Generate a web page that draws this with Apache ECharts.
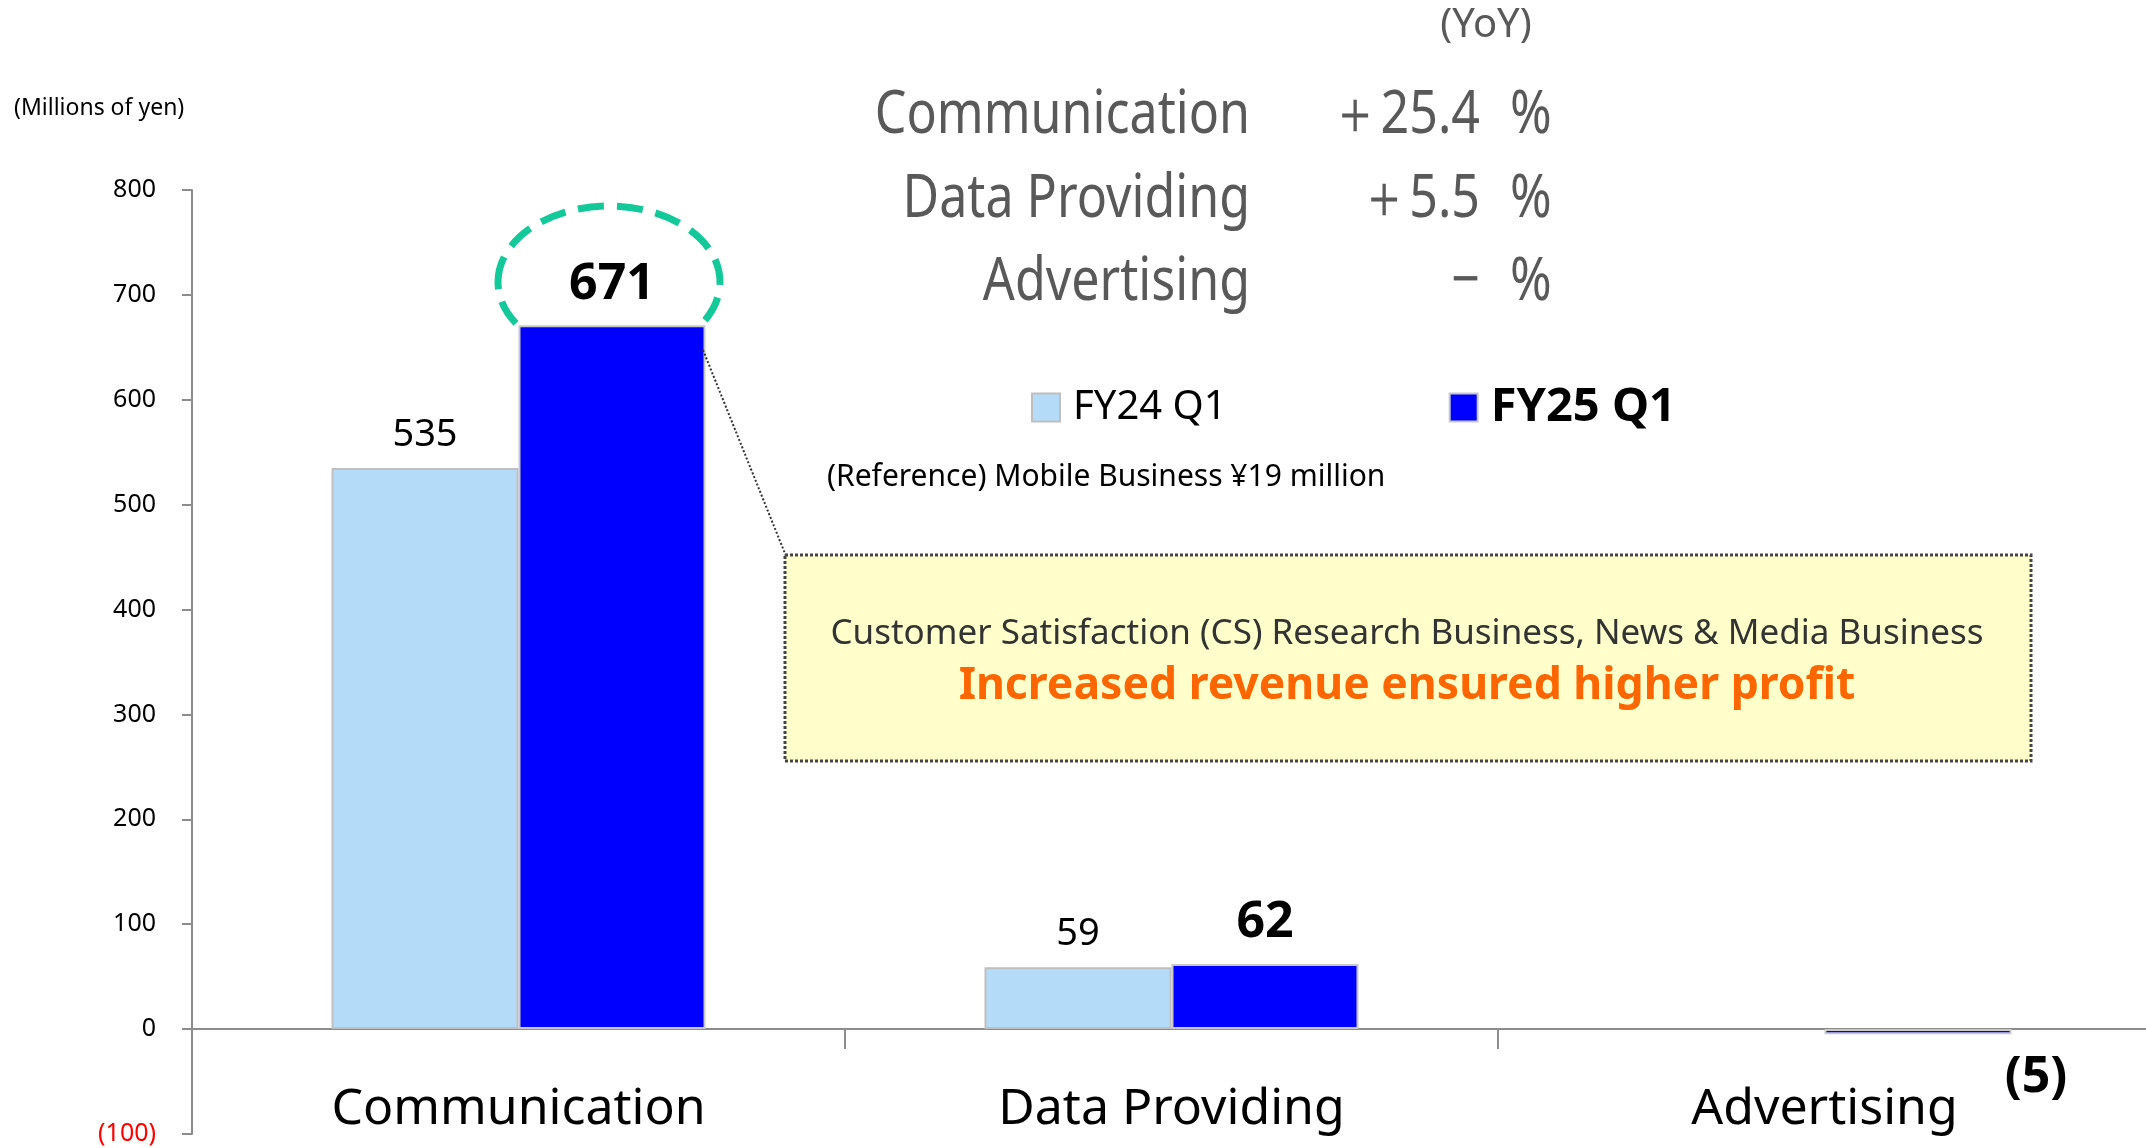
<!DOCTYPE html>
<html>
<head>
<meta charset="utf-8">
<script src="https://cdn.jsdelivr.net/npm/echarts@6/dist/echarts.min.js"></script>
<style>
html,body{margin:0;padding:0;background:#fff;}
#c{width:2146px;height:1148px;}
</style>
</head>
<body>
<div id="c"></div>
<script>
const categories = ['Communication', 'Data Providing', 'Advertising'];
const seriesNames = ['FY24 Q1', 'FY25 Q1'];
const fy24Values = [535, 59, null];
const fy25Values = [671, 62, -5];
const yMin = -100, yMax = 800, yInterval = 100;
const yoyNames = ['Communication', 'Data Providing', 'Advertising'];
const yoyValues = ['＋25.4', '＋5.5', '−'];
const unitText = '(Millions of yen)';
const referenceText = '(Reference) Mobile Business ¥19 million';
const calloutLine1 = 'Customer Satisfaction (CS) Research Business, News & Media Business';
const calloutLine2 = 'Increased revenue ensured higher profit';

const FONT = "'Noto Sans', 'Open Sans', sans-serif";
const GRAY = '#595959';
const SX = 0.822;

const chart = echarts.init(document.getElementById('c'), null, {renderer: 'canvas'});

function condensedText(text, x, y, align, size, color, weight) {
  return {
    type: 'text', z: 5, x: x, y: y, scaleX: SX, scaleY: 1,
    style: {text: text, x: 0, y: 0, align: align, verticalAlign: 'middle', font: `${weight || 'normal'} ${size}px ${FONT}`, fill: color}
  };
}

const yoyRowsY = [116, 200, 283];
const yoyGraphics = [];
yoyNames.forEach((n, i) => {
  yoyGraphics.push(condensedText(n, 1250, yoyRowsY[i], 'right', 61, GRAY));
  yoyGraphics.push(condensedText(yoyValues[i], 1480, yoyRowsY[i], 'right', 61, GRAY));
  yoyGraphics.push(condensedText('%', 1510, yoyRowsY[i], 'left', 61, GRAY));
});

const option = {
  animation: false,
  backgroundColor: '#ffffff',
  textStyle: {fontFamily: FONT},
  grid: {left: 192, top: 190, width: 1959, height: 944, containLabel: false, outerBoundsMode: 'none'},
  legend: {
    left: 1026, top: 379,
    icon: 'rect',
    itemWidth: 28, itemHeight: 28, itemGap: 222,
    data: [
      {name: seriesNames[0], textStyle: {fontSize: 40, fontWeight: 'normal', color: '#000', fontFamily: FONT, padding: [0, 0, 0, 8]}},
      {name: seriesNames[1], textStyle: {fontSize: 47, fontWeight: 'bold', color: '#000', fontFamily: FONT, padding: [0, 0, 0, 8]}}
    ]
  },
  xAxis: {
    type: 'category',
    data: categories,
    axisLine: {onZero: true, lineStyle: {color: '#8c8c8c', width: 2}},
    axisTick: {show: true, length: 20, lineStyle: {color: '#8c8c8c', width: 2}},
    axisLabel: {fontSize: 50, color: '#000', margin: -49, fontFamily: FONT}
  },
  yAxis: {
    type: 'value',
    min: yMin, max: yMax, interval: yInterval,
    axisLine: {show: true, lineStyle: {color: '#8c8c8c', width: 2}},
    axisTick: {show: true, length: 10, lineStyle: {color: '#8c8c8c', width: 2}},
    splitLine: {show: false},
    axisLabel: {
      fontSize: 25, color: '#000', margin: 36, fontFamily: FONT,
      formatter: v => v < 0 ? '{neg|(' + (-v) + ')}' : String(v),
      rich: {neg: {color: '#ff0000', fontSize: 25, fontFamily: FONT}}
    }
  },
  series: [
    {
      name: seriesNames[0], type: 'bar', data: fy24Values,
      barWidth: 187, barGap: '0%',
      itemStyle: {color: '#b4dcf8', borderColor: '#bfbfbf', borderWidth: 2},
      label: {show: true, position: 'top', distance: 14, fontSize: 38, color: '#000', fontFamily: FONT}
    },
    {
      name: seriesNames[1], type: 'bar', data: fy25Values.map(v => v < 0 ? {value: v, label: {position: 'outside', offset: [118, 2], formatter: '(' + (-v) + ')'}} : v),
      barWidth: 187, barGap: '0%',
      itemStyle: {color: '#0000ff', borderColor: '#c8c8c8', borderWidth: 2},
      label: {show: true, position: 'top', distance: 16, fontSize: 50, fontWeight: 'bold', color: '#000', fontFamily: FONT}
    }
  ],
  graphic: [
    {type: 'text', z: 5, style: {text: unitText, x: 14, y: 108, verticalAlign: 'middle', font: `23px ${FONT}`, fill: '#000'}},
    {type: 'text', z: 5, style: {text: '(YoY)', x: 1486, y: 26, align: 'center', verticalAlign: 'middle', font: `40px ${FONT}`, fill: GRAY}},
    ...yoyGraphics,
    {type: 'text', z: 5, style: {text: referenceText, x: 827, y: 477, verticalAlign: 'middle', font: `30px ${FONT}`, fill: '#000'}},
    {type: 'line', z: 4, shape: {x1: 703, y1: 350, x2: 786, y2: 556}, style: {stroke: '#333', lineWidth: 2, lineDash: [2, 2]}},
    {type: 'rect', z: 5, shape: {x: 785, y: 555, width: 1246, height: 206}, style: {fill: '#ffffcc', stroke: '#444', lineWidth: 3, lineDash: [3, 2]}},
    {type: 'text', z: 6, style: {text: calloutLine1, x: 1407, y: 634, align: 'center', verticalAlign: 'middle', font: `35px ${FONT}`, fill: '#333'}},
    {type: 'text', z: 6, style: {text: calloutLine2, x: 1407, y: 686, align: 'center', verticalAlign: 'middle', font: `bold 44.5px ${FONT}`, fill: '#ff6600'}},
    {type: 'ellipse', z: 0, shape: {cx: 609, cy: 282, rx: 111, ry: 76}, style: {fill: 'none', stroke: '#13c999', lineWidth: 7, lineDash: [26, 13]}}
  ]
};
chart.setOption(option);
</script>
</body>
</html>
